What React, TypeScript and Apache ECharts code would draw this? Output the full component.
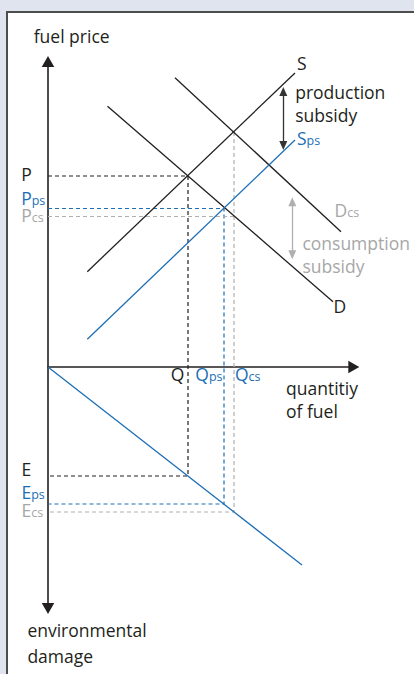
import React, { useEffect, useRef } from "react";
import * as echarts from "echarts";

// ---------------- data (economic units, origin at the axes' crossing) ----------------
// market without subsidy
const Q = 140;
const P = 191;
const E = -109;
// production subsidy (supply shifts down to S_ps)
const Q_PS = 176;
const P_PS = 158.5;
const E_PS = -137;
// consumption subsidy (demand shifts up to D_cs)
const Q_CS = 186;
const P_CS = 150.5;
const E_CS = -145;
const S_AT_QCS = 235;

const curveS = [[39.3, 95.3], [247, 294]];
const curveSps = [[39.3, 27.7], [247, 227]];
const curveD = [[59.5, 260.8], [285, 65.3]];
const curveDcs = [[127, 289.3], [293, 135.3]];
const damageCurve = [[0, 0], [254, -198]];

// subsidy arrows: x position and arrow tips
const productionArrow = [235.3, 280, 217];
const consumptionArrow = [244.3, 169.7, 107.7];

// axis arrow tips
const axisTipX = 311.3;
const axisTipTop = 311;
const axisTipBottom = -247;

// labels
const priceLabels = [["P", ""], ["P", "ps"], ["P", "cs"]];
const damageLabels = [["E", ""], ["E", "ps"], ["E", "cs"]];
const quantityLabels = [["Q", ""], ["Q", "ps"], ["Q", "cs"]];

// ---------------- styling ----------------
const W = 414;
const H = 674;
const ORIGIN = [48, 367];
const AXIS_ARROW = [12.5, 11];
const INK = "#231f20";
const BLUE = "#1d6fb5";
const GRAY_LINE = "#b0b0b0";
const GRAY_TEXT = "#a7a7a7";
const FONT = "'Open Sans', sans-serif";
const FS = 17.5;
const SUB = 12.5;

export default function App() {
  const ref = useRef<HTMLDivElement>(null);

  useEffect(() => {
    document.body.style.margin = "0";
    const chart = echarts.init(ref.current!, null, { renderer: "svg", width: W, height: H });

    const xMax = axisTipX - AXIS_ARROW[1] / 2;
    const yMax = axisTipTop - AXIS_ARROW[1] / 2;
    const yMin = axisTipBottom + AXIS_ARROW[1] / 2;

    const solid = (name: string, data: number[][], color: string, width = 1.3) => ({
      name,
      type: "line",
      data,
      showSymbol: false,
      symbol: "none",
      clip: false,
      silent: true,
      z: 4,
      lineStyle: { color, width, type: "solid" },
    });
    const dashed = (name: string, data: number[][], color: string) => ({
      name,
      type: "line",
      data,
      showSymbol: false,
      symbol: "none",
      clip: false,
      silent: true,
      z: 3,
      lineStyle: { color, width: 1.2, type: [4, 3] },
    });
    const arrow = (name: string, a: number[], color: string) => {
      const h = 9;
      return {
        name,
        type: "lines",
        coordinateSystem: "cartesian2d",
        silent: true,
        z: 5,
        symbol: ["triangle", "triangle"],
        symbolSize: [[8, h], [8, h]],
        lineStyle: { color, width: 1.3, opacity: 1, curveness: 0 },
        data: [{ coords: [[a[0], a[1] - h / 2], [a[0], a[2] + h / 2]] }],
      };
    };

    const hiddenAxis = {
      type: "value",
      axisTick: { show: false },
      axisLabel: { show: false },
      splitLine: { show: false },
    };

    chart.setOption({
      animation: false,
      backgroundColor: "transparent",
      grid: {
        left: ORIGIN[0],
        right: W - ORIGIN[0] - xMax,
        top: ORIGIN[1] - yMax,
        bottom: H - ORIGIN[1] + yMin,
        outerBoundsMode: "none",
        containLabel: false,
      },
      xAxis: {
        ...hiddenAxis,
        min: 0,
        max: xMax,
        axisLine: {
          show: true,
          onZero: true,
          symbol: ["none", "triangle"],
          symbolSize: AXIS_ARROW,
          lineStyle: { color: INK, width: 1.6 },
        },
      },
      yAxis: {
        ...hiddenAxis,
        min: yMin,
        max: yMax,
        axisLine: {
          show: true,
          onZero: true,
          symbol: ["triangle", "triangle"],
          symbolSize: AXIS_ARROW,
          lineStyle: { color: INK, width: 1.6 },
        },
      },
      series: [
        dashed("guide", [[0, P], [Q, P], [Q, E], [0, E]], INK),
        dashed("guide ps", [[0, P_PS], [Q_PS, P_PS], [Q_PS, E_PS], [0, E_PS]], BLUE),
        dashed("guide cs price", [[0, P_CS], [Q_CS, P_CS]], GRAY_LINE),
        dashed("guide cs", [[Q_CS, S_AT_QCS], [Q_CS, E_CS], [0, E_CS]], GRAY_LINE),
        solid("S", curveS, INK),
        solid("D", curveD, INK),
        solid("Dcs", curveDcs, INK),
        solid("Sps", curveSps, BLUE),
        solid("damage", damageCurve, BLUE),
        arrow("production subsidy", productionArrow, "#333333"),
        arrow("consumption subsidy", consumptionArrow, GRAY_LINE),
      ],
    });

    const at = (x: number, y: number, dx: number, dy: number) => {
      const p = chart.convertToPixel({ gridIndex: 0 }, [x, y]) as number[];
      return [p[0] + dx, p[1] + dy];
    };

    const symText = (lab: string[], color: string, pos: number[], align: string) => ({
      type: "text",
      x: pos[0],
      y: pos[1],
      silent: true,
      z: 10,
      style: {
        text: lab[1] ? `{m|${lab[0]}}{s|${lab[1]}}` : `{m|${lab[0]}}`,
        fill: color,
        fontFamily: FONT,
        fontSize: FS,
        align,
        verticalAlign: "middle",
        rich: {
          m: { fontSize: FS, lineHeight: 15, verticalAlign: "bottom", fill: color, fontFamily: FONT },
          s: { fontSize: SUB, lineHeight: 10, verticalAlign: "bottom", fill: color, fontFamily: FONT },
        },
      },
    });

    const block = (text: string, color: string, left: number, baseline: number, lh: number) => ({
      type: "text",
      x: left,
      y: baseline - lh / 2 - 0.388 * FS,
      silent: true,
      z: 10,
      style: {
        text,
        fill: color,
        fontFamily: FONT,
        fontSize: FS,
        lineHeight: lh,
        align: "left",
        verticalAlign: "top",
      },
    });

    const sEnd = curveS[1];
    const spsEnd = curveSps[1];
    const dEnd = curveD[1];
    const dcsEnd = curveDcs[1];

    chart.setOption({
      graphic: [
        symText(priceLabels[0], INK, at(0, P, -26.8, -0.5), "left"),
        symText(priceLabels[1], BLUE, at(0, P_PS, -26.8, -9.5), "left"),
        symText(priceLabels[2], GRAY_TEXT, at(0, P_CS, -26.8, 0), "left"),
        symText(damageLabels[0], INK, at(0, E, -26.5, -5.5), "left"),
        symText(damageLabels[1], BLUE, at(0, E_PS, -26.5, -10.5), "left"),
        symText(damageLabels[2], GRAY_TEXT, at(0, E_CS, -26.5, -0.5), "left"),
        symText(quantityLabels[0], INK, at(Q, 0, -3.7, 8.5), "right"),
        symText(quantityLabels[1], BLUE, at(Q_PS, 0, -1.5, 8.5), "right"),
        symText(quantityLabels[2], BLUE, at(Q_CS, 0, 1, 8.5), "left"),
        symText(["S", ""], INK, at(sEnd[0], sEnd[1], 2, -9), "left"),
        symText(["S", "ps"], BLUE, at(spsEnd[0], spsEnd[1], 2, -1), "left"),
        symText(["D", ""], INK, at(dEnd[0], dEnd[1], 0.5, 5.3), "left"),
        symText(["D", "cs"], GRAY_TEXT, at(dcsEnd[0], dcsEnd[1], -6.5, -20.7), "left"),
        block("fuel price", INK, 33.7, 43, 23),
        block("quantitiy\nof fuel", INK, 286, 394.3, 23),
        block("environmental\ndamage", INK, 27.4, 636.7, 26),
        block("production\nsubsidy", INK, 295.2, 99, 23),
        block("consumption\nsubsidy", GRAY_TEXT, 302.4, 250, 23),
      ],
    });

    return () => chart.dispose();
  }, []);

  return (
    <div style={{ position: "fixed", left: 0, top: 0, width: W, height: H, background: "#dfe4ef", overflow: "hidden" }}>
      <div
        style={{
          position: "absolute",
          left: 6,
          top: 11,
          width: W,
          height: H,
          background: "#ffffff",
          borderLeft: "2px solid #4d4d4d",
          borderTop: "2px solid #4d4d4d",
          boxSizing: "border-box",
        }}
      />
      <div ref={ref} style={{ position: "absolute", left: 0, top: 0, width: W, height: H }} />
    </div>
  );
}
